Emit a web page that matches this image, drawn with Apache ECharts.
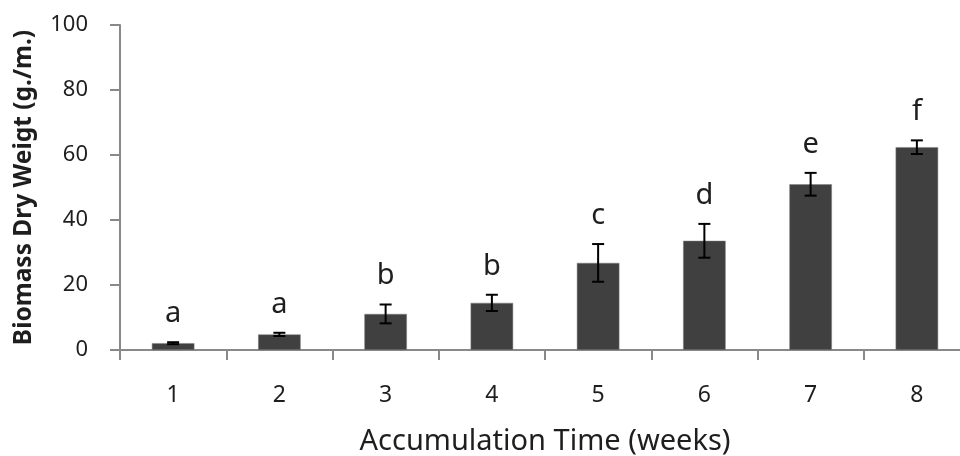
<!DOCTYPE html>
<html>
<head>
<meta charset="utf-8">
<script src="https://cdn.jsdelivr.net/npm/echarts@6/dist/echarts.min.js"></script>
<style>
  html, body { margin: 0; padding: 0; background: #fff; }
  #chart { width: 960px; height: 456px; }
</style>
</head>
<body>
<div id="chart"></div>
<script>
// weeks on x axis
var weeks = ['1', '2', '3', '4', '5', '6', '7', '8'];
// mean biomass dry weight (g./m.)
var biomass = [2.1, 4.8, 11.1, 14.5, 26.8, 33.6, 51.0, 62.4];
// +/- error
var errors = [0.3, 0.5, 2.9, 2.5, 5.8, 5.2, 3.5, 2.1];
// significance letters
var letters = ['a', 'a', 'b', 'b', 'c', 'd', 'e', 'f'];

var FONT = '"Noto Sans", sans-serif';
var myChart = echarts.init(document.getElementById('chart'));

var errData = weeks.map(function (w, i) {
  return [i, biomass[i] - errors[i], biomass[i] + errors[i]];
});

var option = {
  animation: false,
  textStyle: { fontFamily: FONT },
  grid: { left: 120, right: -10, top: 25, bottom: 106, outerBoundsMode: 'none' },
  xAxis: {
    type: 'category',
    data: weeks,
    name: 'Accumulation Time (weeks)',
    nameLocation: 'middle',
    nameGap: 77,
    nameTextStyle: { fontSize: 29, color: '#1e1e1e', fontFamily: FONT },
    axisLine: { lineStyle: { color: '#898989', width: 2 } },
    axisTick: { show: true, length: 10, lineStyle: { color: '#898989', width: 2 } },
    axisLabel: { margin: 34, fontSize: 23, color: '#1e1e1e', fontFamily: FONT }
  },
  yAxis: {
    type: 'value',
    min: 0,
    max: 100,
    interval: 20,
    name: 'Biomass Dry Weigt (g./m.)',
    nameLocation: 'middle',
    nameGap: 83,
    nameTextStyle: { fontSize: 24.5, fontWeight: 'bold', color: '#1e1e1e', fontFamily: FONT },
    axisLine: { show: true, lineStyle: { color: '#898989', width: 2 } },
    axisTick: { show: true, length: 10, lineStyle: { color: '#898989', width: 2 } },
    axisLabel: { margin: 32, fontSize: 22, color: '#1e1e1e', fontFamily: FONT },
    splitLine: { show: false }
  },
  series: [
    {
      type: 'bar',
      data: biomass,
      barWidth: '40%',
      itemStyle: { color: '#404040', borderColor: '#7f7f7f', borderWidth: 0.5 }
    },
    {
      type: 'custom',
      data: errData,
      z: 10,
      renderItem: function (params, api) {
        var i = api.value(0);
        var lo = api.coord([i, api.value(1)]);
        var hi = api.coord([i, api.value(2)]);
        var cap = 6;
        var st = { stroke: '#000', lineWidth: 2 };
        return {
          type: 'group',
          children: [
            { type: 'line', shape: { x1: lo[0], y1: lo[1], x2: hi[0], y2: hi[1] }, style: st },
            { type: 'line', shape: { x1: lo[0] - cap, y1: lo[1], x2: lo[0] + cap, y2: lo[1] }, style: st },
            { type: 'line', shape: { x1: hi[0] - cap, y1: hi[1], x2: hi[0] + cap, y2: hi[1] }, style: st },
            {
              type: 'text',
              style: {
                text: letters[params.dataIndex],
                x: hi[0],
                y: hi[1] - 14,
                align: 'center',
                verticalAlign: 'bottom',
                fontSize: 29,
                fontFamily: FONT,
                fill: '#1e1e1e'
              }
            }
          ]
        };
      }
    }
  ]
};

myChart.setOption(option);
</script>
</body>
</html>
